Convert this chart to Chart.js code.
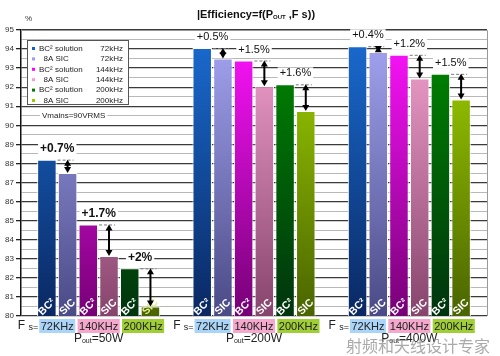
<!DOCTYPE html>
<html><head><meta charset="utf-8">
<script src="https://cdn.jsdelivr.net/npm/chart.js@4/dist/chart.umd.min.js"></script>
<style>html,body{margin:0;padding:0;background:#fff;}#wrap{width:500px;height:356px;position:relative;}</style>
</head><body><div id="wrap"><canvas id="c" width="500" height="356"></canvas></div>
<script>
// ---- data ----
const powers = ['50W', '200W', '400W'];
const freqLabels = ['72KHz', '140KHz', '200KHz'];
const seriesNames = ['BC² solution', '8A SIC', 'BC² solution', '8A SIC', 'BC² solution', '8A SIC'];
const seriesFreqs = ['72kHz', '72kHz', '144kHz', '144kHz', '200kHz', '200kHz'];
const barTags = ['BC²', 'SIC', 'BC²', 'SIC', 'BC²', 'SIC'];
const bc72   = [88.2, 94.05, 94.15];
const sic72  = [87.5, 93.5, 93.85];
const bc144  = [84.8, 93.4, 93.7];
const sic144 = [83.15, 92.05, 92.45];
const bc200  = [82.5, 92.15, 92.7];
const sic200 = [80.5, 90.75, 91.35];
const gains50  = ['+0.7%', '+1.7%', '+2%'];
const gains200 = ['+0.5%', '+1.5%', '+1.6%'];
const gains400 = ['+0.4%', '+1.2%', '+1.5%'];
const yTickLabels = ['80','81','82','83','84','85','86','87','88','89','90','91','92','93','94','95'];
const noteText = 'Vmains=90VRMS';
const watermark = '射频和天线设计专家';

// ---- styles ----
const series = [bc72, sic72, bc144, sic144, bc200, sic200];
const gainsByGroup = [gains50, gains200, gains400];
const topCols = ['#1a6cd2', '#a6a6f4', '#ff14ff', '#f7a4d2', '#008a00', '#a2d400'];
const botCols = ['#0a2862', '#4a4a86', '#760076', '#86446c', '#00340e', '#4a6400'];
const legendCols = ['#1060c8', '#9a9aee', '#ff00ff', '#f49ccc', '#007a00', '#99cc00'];
const boxCols = ['#aad4f8', '#f5a8cc', '#9fcf34'];
const FONT = 'Liberation Sans, Arial, sans-serif';

function grad(i) {
  return (c) => {
    const a = c.chart.chartArea;
    if (!a) return topCols[i];
    const g = c.chart.ctx.createLinearGradient(0, a.top, 0, a.bottom);
    g.addColorStop(0, topCols[i]);
    g.addColorStop(1, botCols[i]);
    return g;
  };
}

const decor = {
  id: 'decor',
  afterDraw(chart) {
    const ctx = chart.ctx, a = chart.chartArea;
    const xs = chart.scales.x;
    ctx.save();
    // frame right/top
    ctx.strokeStyle = '#999'; ctx.lineWidth = 1;
    ctx.beginPath(); ctx.moveTo(a.left, a.top + 0.5); ctx.lineTo(a.right + 0.5, a.top + 0.5); ctx.lineTo(a.right + 0.5, a.bottom); ctx.stroke();

    // title
    ctx.fillStyle = '#111'; ctx.textBaseline = 'middle';
    const tParts = [['|Efficiency=f(P', 'bold 11px ' + FONT, 0], ['OUT', 'bold 6px ' + FONT, 2], [' ,F s))', 'bold 11px ' + FONT, 0]];
    let tw = 0; tParts.forEach(p => { ctx.font = p[1]; tw += ctx.measureText(p[0]).width; });
    let tx = 256 - tw / 2;
    tParts.forEach(p => { ctx.font = p[1]; ctx.textAlign = 'left'; ctx.fillText(p[0], tx, 15 + p[2]); tx += ctx.measureText(p[0]).width; });
    ctx.font = '8px ' + FONT; ctx.fillStyle = '#333'; ctx.fillText('%', 25, 19);

    // legend box
    ctx.fillStyle = '#fff'; ctx.fillRect(27, 40, 101, 64);
    ctx.strokeStyle = '#555'; ctx.lineWidth = 1; ctx.strokeRect(27.5, 40.5, 101, 64);
    ctx.font = '8px ' + FONT; ctx.textBaseline = 'middle';
    for (let i = 0; i < 6; i++) {
      const y = 48.5 + i * 10.4;
      ctx.fillStyle = legendCols[i]; ctx.fillRect(32, y - 1.5, 3, 3);
      ctx.fillStyle = '#222'; ctx.textAlign = 'left';
      ctx.fillText((i % 2 ? '  ' : '') + seriesNames[i], 39, y);
      ctx.textAlign = 'right'; ctx.fillText(seriesFreqs[i], 123, y);
    }
    // note
    ctx.font = '8px ' + FONT; ctx.textAlign = 'left';
    const nw = ctx.measureText(noteText).width;
    ctx.fillStyle = '#fff'; ctx.fillRect(40, 110, nw + 4, 10);
    ctx.fillStyle = '#222'; ctx.fillText(noteText, 42, 115.5);

    // bar tags
    for (let i = 0; i < 6; i++) {
      const meta = chart.getDatasetMeta(i);
      meta.data.forEach((el) => {
        ctx.save();
        ctx.translate(el.x, a.bottom - 9);
        ctx.rotate(-Math.PI / 4);
        ctx.font = 'bold 10.5px ' + FONT; ctx.textAlign = 'center'; ctx.textBaseline = 'middle';
        ctx.fillStyle = (el.y > a.bottom - 16) ? '#e4ee96' : '#fff';
        ctx.fillText(barTags[i], 0, 0);
        ctx.restore();
      });
    }

    // gain annotations
    for (let g = 0; g < 3; g++) {
      for (let p = 0; p < 3; p++) {
        const bc = chart.getDatasetMeta(p * 2).data[g];
        const sc = chart.getDatasetMeta(p * 2 + 1).data[g];
        const yB = bc.y, yS = sc.y, ax = sc.x;
        ctx.strokeStyle = '#777'; ctx.lineWidth = 1; ctx.setLineDash([3, 2]);
        ctx.beginPath(); ctx.moveTo(bc.x + bc.width / 2 + 1, yB + 0.5); ctx.lineTo(ax + 6, yB + 0.5); ctx.stroke();
        ctx.setLineDash([]);
        ctx.strokeStyle = '#000'; ctx.fillStyle = '#000'; ctx.lineWidth = 2;
        ctx.beginPath(); ctx.moveTo(ax, yB + 3); ctx.lineTo(ax, yS - 3); ctx.stroke();
        ctx.beginPath(); ctx.moveTo(ax - 3.5, yB + 6); ctx.lineTo(ax, yB); ctx.lineTo(ax + 3.5, yB + 6); ctx.fill();
        ctx.beginPath(); ctx.moveTo(ax - 3.5, yS - 6); ctx.lineTo(ax, yS); ctx.lineTo(ax + 3.5, yS - 6); ctx.fill();
        // label
        const lx = (bc.x + sc.x) / 2, ly = yB - 11;
        ctx.font = (g === 0 ? 'bold 12px ' : '11px ') + FONT;
        const lw = ctx.measureText(gainsByGroup[g][p]).width;
        ctx.fillStyle = '#fff'; ctx.fillRect(lx - lw / 2 - 2, ly - 6, lw + 4, 12);
        ctx.fillStyle = '#111'; ctx.textAlign = 'center'; ctx.textBaseline = 'middle';
        ctx.fillText(gainsByGroup[g][p], lx, ly);
      }
    }

    // x labels
    for (let g = 0; g < 3; g++) {
      const cx = xs.getPixelForValue(g);
      let firstLeft = 0;
      for (let p = 0; p < 3; p++) {
        const e0 = chart.getDatasetMeta(p * 2).data[g], e1 = chart.getDatasetMeta(p * 2 + 1).data[g];
        const bx = (e0.x + e1.x) / 2 + (p === 2 ? 3 : 0);
        ctx.font = '11px ' + FONT;
        const w = ctx.measureText(freqLabels[p]).width + 3;
        ctx.fillStyle = boxCols[p]; ctx.fillRect(bx - w / 2, 319, w, 14);
        ctx.fillStyle = '#222'; ctx.textAlign = 'center'; ctx.textBaseline = 'middle';
        ctx.fillText(freqLabels[p], bx, 326.5);
        if (p === 0) firstLeft = bx - w / 2;
      }
      ctx.textAlign = 'right'; ctx.fillStyle = '#222';
      ctx.font = '9px ' + FONT; ctx.fillText('s=', firstLeft - 1, 327.5);
      const sw = ctx.measureText('s=').width;
      ctx.font = '12px ' + FONT; ctx.fillText('F ', firstLeft - 1 - sw, 326);
      // Pout
      const parts = [['P', '12px ' + FONT, 0], ['out', '7px ' + FONT, 2], ['=' + powers[g], '12px ' + FONT, 0]];
      let pw = 0; parts.forEach(q => { ctx.font = q[1]; pw += ctx.measureText(q[0]).width; });
      let px = cx - pw / 2; ctx.textAlign = 'left';
      parts.forEach(q => { ctx.font = q[1]; ctx.fillText(q[0], px, 339 + q[2]); px += ctx.measureText(q[0]).width; });
    }

    // watermark
    ctx.font = '16px "Noto Sans CJK SC"'; ctx.fillStyle = 'rgba(140,140,140,0.75)';
    ctx.textAlign = 'left'; ctx.textBaseline = 'middle';
    ctx.fillText(watermark, 346, 346);
    ctx.restore();
  }
};

new Chart(document.getElementById('c'), {
  type: 'bar',
  data: {
    labels: powers,
    datasets: series.map((d, i) => ({
      label: seriesNames[i] + ' ' + seriesFreqs[i],
      data: d,
      backgroundColor: grad(i),
      borderColor: '#fff',
      borderWidth: 1,
      borderSkipped: 'bottom',
      categoryPercentage: 0.8,
      barPercentage: 0.94
    }))
  },
  options: {
    responsive: false,
    animation: false,
    layout: { padding: { top: 30, right: 13, bottom: 40, left: 0 } },
    plugins: { legend: { display: false }, tooltip: { enabled: false } },
    scales: {
      x: { display: false, offset: true, grid: { display: false } },
      y: {
        min: 80, max: 95,
        afterFit: (s) => { s.width = 21; },
        ticks: {
          stepSize: 0.5, autoSkip: false, padding: 2, color: '#333',
          font: { size: 8, family: FONT },
          callback: (v) => Number.isInteger(v) ? yTickLabels[v - 80] : ''
        },
        grid: {
          color: (c) => Number.isInteger(c.tick.value) ? '#3a3a3a' : '#b8b8b8',
          lineWidth: (c) => Number.isInteger(c.tick.value) ? 1.3 : 1,
          tickColor: (c) => Number.isInteger(c.tick.value) ? '#222' : 'rgba(0,0,0,0)',
          tickLength: 5
        },
        border: { display: true, color: '#111', width: 1.5 }
      }
    }
  },
  plugins: [decor]
});
</script></body></html>
